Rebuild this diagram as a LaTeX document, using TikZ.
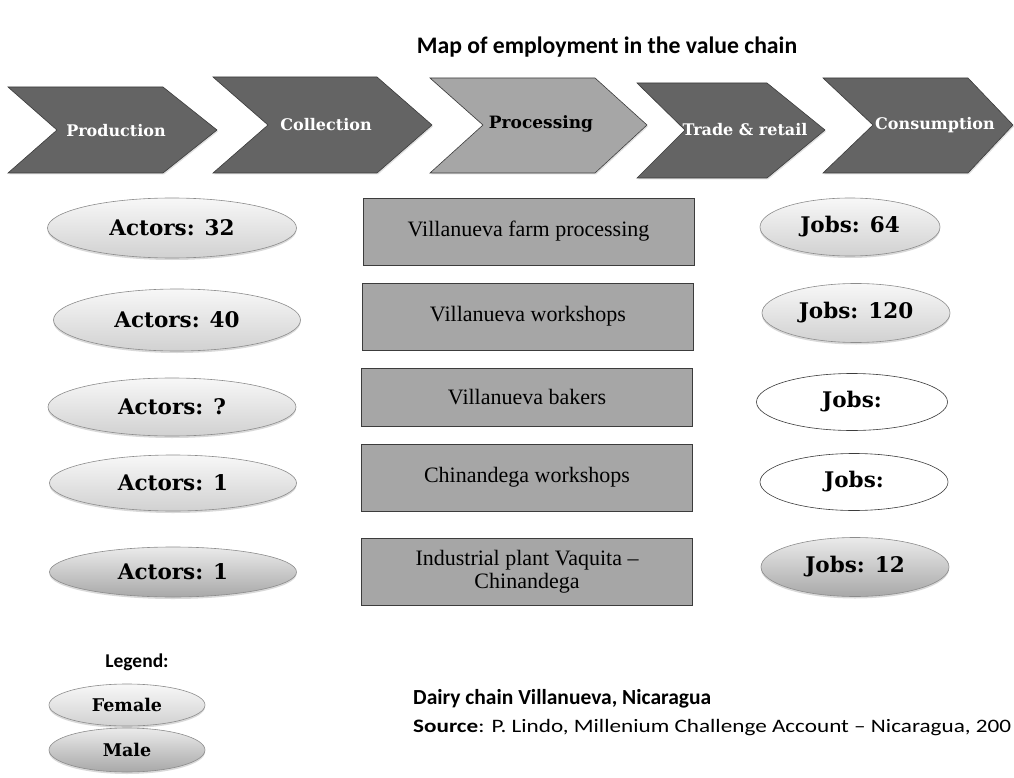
\documentclass[tikz,border=0pt]{standalone}
\usepackage{fontspec}
\usepackage{graphicx}
\setmainfont{Liberation Serif}
\newfontfamily\calfont[Ligatures=TeX]{Carlito}
\newfontfamily\geofont{DejaVu Serif}
\usetikzlibrary{shapes.geometric,shadows}
\definecolor{chevdark}{HTML}{646464}
\definecolor{chevlight}{HTML}{A6A6A6}
\definecolor{boxfill}{HTML}{A6A6A6}
\definecolor{edgedark}{HTML}{3C3C3C}
\definecolor{ellipseedge}{HTML}{8C8C8C}
\tikzset{
  chev/.style={draw=edgedark, line width=0.6pt, fill=chevdark,
     drop shadow={opacity=0.25, shadow xshift=1pt, shadow yshift=-1.5pt}},
  chevproc/.style={chev, fill=chevlight},
  chevtext/.style={font=\geofont\bfseries\fontsize{16}{18}\selectfont, text=white, inner sep=0pt},
  chevtextdark/.style={chevtext, text=black, font=\geofont\bfseries\fontsize{17}{19}\selectfont},
  female/.style={ellipse, draw=ellipseedge, line width=0.6pt, inner sep=0pt,
     shading=axis, top color=white!97!black, bottom color=white!82!black,
     drop shadow={opacity=0.3, shadow xshift=0pt, shadow yshift=-2pt},
     font=\geofont\bfseries\fontsize{21.5}{24}\selectfont},
  male/.style={female, top color=white!92!black, bottom color=white!66!black},
  unknown/.style={ellipse, draw=edgedark, line width=0.6pt, inner sep=0pt, fill=white,
     font=\geofont\bfseries\fontsize{21.5}{24}\selectfont},
  procbox/.style={rectangle, draw=edgedark, line width=0.8pt, fill=boxfill, inner sep=0pt,
     minimum width=331pt, align=center,
     font=\fontsize{22}{23.5}\selectfont},
  legendtext/.style={font=\geofont\bfseries\fontsize{17.5}{20}\selectfont}
}
\begin{document}
\begin{tikzpicture}[x=1pt,y=-1pt]
\useasboundingbox (0,0) rectangle (1014,778);
\clip (0,0) rectangle (1014,778);
% title
\node[font=\calfont\bfseries\fontsize{23.7}{27}\selectfont, inner sep=0pt] (title) at (607,47) {Map of employment in the value chain};
% chevrons
\draw[chev] (8,87) -- (163,87) -- (217,130) -- (163,173) -- (8,173) -- (57,130) -- cycle;
\draw[chev] (213,77) -- (377,77) -- (432,125) -- (377,173) -- (213,173) -- (268,125) -- cycle;
\draw[chevproc] (430,78) -- (595,78) -- (647,125) -- (595,173) -- (430,173) -- (483,125) -- cycle;
\draw[chev] (637,83) -- (767,83) -- (825,130) -- (767,178) -- (637,178) -- (685,130) -- cycle;
\draw[chev] (823,78) -- (968,78) -- (1013,125) -- (968,173) -- (823,173) -- (873,125) -- cycle;
\node[chevtext] (cProd) at (116,131) {Production};
\node[chevtext] (cColl) at (326,125) {Collection};
\node[chevtextdark] (cProc) at (541,124) {Processing};
\node[chevtext] (cTrade) at (745,130) {Trade \& retail};
\node[chevtext] (cCons) at (935,125) {Consumption};
% actors
\node[female, minimum width=249pt, minimum height=60pt] (a1) at (172,228) {Actors: 32};
\node[female, minimum width=247pt, minimum height=62pt] (a2) at (177,320) {Actors: 40};
\node[female, minimum width=248pt, minimum height=58pt] (a3) at (172,407) {Actors: ?};
\node[female, minimum width=247pt, minimum height=56pt] (a4) at (173,483) {Actors: 1};
\node[male,   minimum width=247pt, minimum height=50pt] (a5) at (173,572) {Actors: 1};
% processing boxes
\node[procbox, minimum height=67pt] (b1) at (528.5,231.5) {Villanueva farm processing};
\node[procbox, minimum height=67pt] (b2) at (528,316.5) {Villanueva workshops};
\node[procbox, minimum height=58pt] (b3) at (527,397) {Villanueva bakers};
\node[procbox, minimum height=67pt] (b4) at (527,477.5) {Chinandega workshops};
\node[procbox, minimum height=67pt] (b5) at (527,571.5) {Industrial plant Vaquita –\\Chinandega};
% jobs
\node[female,  minimum width=180pt, minimum height=58pt] (j1) at (850,227) {Jobs: 64};
\node[female,  minimum width=188pt, minimum height=59pt] (j2) at (856,313) {Jobs: 120};
\node[unknown, minimum width=191pt, minimum height=57pt] (j3) at (852,402) {Jobs:};
\node[unknown, minimum width=188pt, minimum height=57pt] (j4) at (854,482) {Jobs:};
\node[male,    minimum width=188pt, minimum height=59pt] (j5) at (855,567) {Jobs: 12};
% legend
\node[font=\calfont\bfseries\fontsize{19.5}{22}\selectfont, inner sep=0pt] (legend) at (137,662) {Legend:};
\node[female, legendtext, minimum width=156pt, minimum height=42pt] (lf) at (127,705) {Female};
\node[male, legendtext, minimum width=156pt, minimum height=44pt] (lm) at (127,750) {Male};
% source
\node[anchor=west, font=\calfont\bfseries\fontsize{21.5}{24}\selectfont, inner sep=0pt] (dairy) at (413,699) {Dairy chain Villanueva, Nicaragua};
\node[anchor=west, font=\calfont\fontsize{19}{21}\selectfont, inner sep=0pt] (source) at (413,728) {\scalebox{1.22}[1]{\textbf{Source}: P. Lindo, Millenium Challenge Account – Nicaragua, 200}};
\end{tikzpicture}
\end{document}
